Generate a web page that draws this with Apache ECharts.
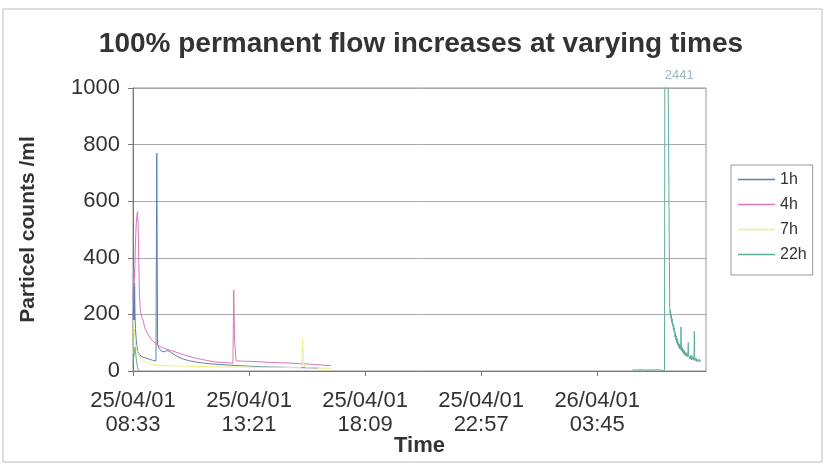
<!DOCTYPE html>
<html>
<head>
<meta charset="utf-8">
<script src="https://cdn.jsdelivr.net/npm/echarts@6/dist/echarts.min.js"></script>
<style>
  body { margin: 0; background: #fff; }
  #main { width: 826px; height: 470px; }
</style>
</head>
<body>
<div id="main"></div>
<script>
// minutes after 25/04/01 08:33
var xTickLabels = ['25/04/01\n08:33', '25/04/01\n13:21', '25/04/01\n18:09', '25/04/01\n22:57', '26/04/01\n03:45'];
var seriesNames = ['1h', '4h', '7h', '22h'];

var t1h = [0, 1, 2, 3, 4, 5, 6, 8, 10, 12, 16, 20, 25, 32, 40, 48, 57, 59, 60, 61, 63, 67, 72, 78, 84, 87, 90, 95, 102, 112, 125, 140, 155, 175, 193, 215, 235, 260, 290, 320, 350, 380, 410, 440, 460];
var v1h = [80, 260, 350, 180, 310, 200, 150, 110, 85, 68, 58, 52, 48, 46, 42, 38, 35, 770, 420, 95, 85, 75, 70, 68, 72, 76, 70, 65, 58, 50, 42, 36, 32, 28, 25, 23, 21, 19, 17, 15, 14, 13, 12, 11, 10];

var t4h = [0, 1, 2, 3, 4, 6, 8, 10, 11.5, 13, 14.5, 16, 18, 20, 24, 30, 37, 45, 55, 69, 85, 100, 112, 130, 154, 180, 203, 225, 243, 248, 250, 252, 256, 270, 290, 310, 330, 350, 370, 390, 410, 430, 450, 470, 490];
var v4h = [250, 345, 300, 360, 330, 450, 520, 555, 563, 500, 380, 270, 215, 200, 185, 150, 130, 112, 98, 85, 76, 70, 64, 55, 46, 38, 32, 30, 28, 27, 286, 110, 36, 35, 34, 33, 31, 30, 29, 28, 26, 25, 23, 21, 19];

var t7h = [0, 1, 2, 3, 5, 8, 12, 16, 20, 25, 30, 40, 50, 60, 80, 100, 130, 160, 200, 240, 280, 320, 360, 400, 418, 421, 423, 426, 432, 450, 470, 490];
var v7h = [60, 180, 170, 150, 110, 80, 64, 48, 40, 34, 32, 26, 23, 21, 19, 18, 17, 16, 15, 14, 14, 13, 13, 12, 12, 115, 30, 14, 12, 11, 10, 9];

var t22h = [0, 2, 4, 5, 6, 8, 10, 12, 14, 16, 17, 1239, 1250, 1260, 1270, 1280, 1290, 1300, 1306, 1312, 1319, 1321,
  1332, 1333, 1334, 1335, 1336, 1337, 1338, 1339, 1340, 1341, 1342, 1343, 1344, 1345, 1346, 1347, 1348, 1349, 1350,
  1351, 1352, 1353, 1354, 1355, 1356, 1357, 1358, 1359, 1360, 1361, 1362, 1363, 1364, 1365, 1366, 1367, 1368, 1369, 1370,
  1371, 1372, 1373, 1374, 1375, 1376, 1377, 1378, 1379, 1380, 1381, 1382, 1383, 1384, 1385, 1386, 1387, 1388, 1389, 1390,
  1391, 1392, 1393, 1394, 1395, 1396, 1397, 1398, 1399, 1400, 1401, 1402, 1403, 1404, 1405, 1406, 1407, 1408];
var v22h = [30, 50, 75, 85, 70, 45, 21, 8, 2, 0, null, 4, 3, 5, 3, 4, 3, 5, 4, 2, 2, 2441,
  227, 200, 215, 185, 200, 170, 185, 160, 170, 145, 160, 135, 150, 120, 135, 110, 125, 100, 115,
  95, 108, 88, 100, 82, 95, 78, 90, 75, 155, 80, 70, 84, 66, 78, 62, 74, 58, 70, 56,
  66, 54, 64, 52, 62, 50, 60, 100, 52, 46, 56, 44, 54, 42, 52, 40, 55, 42, 50, 40,
  48, 38, 140, 48, 38, 46, 36, 44, 34, 42, 33, 40, 32, 40, 30, 42, 32, 38];

var seriesColors = ['#5a7fb5', '#d877bf', '#efef80', '#5fae9c'];

function pairs(t, v) {
  return t.map(function (m, i) { return [m, v[i]]; });
}

var peakIdx = v22h.indexOf(Math.max.apply(null, v22h.filter(function (d) { return d !== null; })));

var dom_flow = document.getElementById('main');
var chart_flow = echarts.init(dom_flow, null, { renderer: 'canvas' });

var font = "'Liberation Sans', Arial, sans-serif";

var option_flow = {
  animation: false,
  backgroundColor: '#fff',
  textStyle: { fontFamily: font },
  title: {
    text: '100% permanent flow increases at varying times',
    left: 416,
    textAlign: 'center',
    top: 25,
    textStyle: { fontSize: 28, fontWeight: 'bold', color: '#333', fontFamily: font }
  },
  graphic: [{
    type: 'rect',
    shape: { x: 3, y: 9, width: 819, height: 453 },
    style: { fill: 'none', stroke: '#bbb', lineWidth: 1 },
    silent: true
  }],
  grid: {
    left: 133, top: 88, right: 120, bottom: 99,
    show: true, borderColor: '#999', borderWidth: 1
  },
  legend: {
    orient: 'vertical',
    left: 731, top: 165,
    padding: [6, 6, 12, 7],
    icon: 'rect',
    itemWidth: 37, itemHeight: 1.5, itemGap: 8,
    borderColor: '#999', borderWidth: 1,
    backgroundColor: '#fff',
    textStyle: { fontSize: 16, color: '#333', fontFamily: font, lineHeight: 17 },
    data: seriesNames
  },
  xAxis: {
    type: 'value',
    min: 0, max: 1422, interval: 288,
    name: 'Time',
    nameLocation: 'middle',
    nameGap: 64,
    nameMoveOverlap: false,
    nameTextStyle: { fontSize: 22, fontWeight: 'bold', color: '#333' },
    axisLine: { lineStyle: { color: '#777' } },
    axisTick: { show: true, length: 5, lineStyle: { color: '#777' } },
    splitLine: { show: false },
    axisLabel: {
      fontSize: 22, color: '#333', lineHeight: 24, margin: 18, showMaxLabel: false,
      formatter: function (v) {
        var i = v / 288;
        return Number.isInteger(i) && xTickLabels[i] ? xTickLabels[i] : '';
      }
    }
  },
  yAxis: {
    type: 'value',
    min: 0, max: 1000, interval: 200,
    name: 'Particel counts /ml',
    nameLocation: 'middle',
    nameGap: 94,
    nameTextStyle: { fontSize: 21, fontWeight: 'bold', color: '#333' },
    axisLine: { show: true, lineStyle: { color: '#777' } },
    axisTick: { show: true, length: 5, lineStyle: { color: '#777' } },
    splitLine: { lineStyle: { color: '#aaa' } },
    axisLabel: {
      fontSize: 22, color: '#333', margin: 13,
      formatter: function (v) { return String(v); }
    }
  },
  series: [
    { name: '1h', type: 'line', data: pairs(t1h, v1h) },
    { name: '4h', type: 'line', data: pairs(t4h, v4h) },
    { name: '7h', type: 'line', data: pairs(t7h, v7h) },
    {
      name: '22h', type: 'line', data: pairs(t22h, v22h),
      markPoint: {
        symbol: 'circle', symbolSize: 0, silent: true,
        label: { show: true, position: 'top', distance: 6, offset: [14, 0], color: '#9cb8c0', fontSize: 13, formatter: '{c}' },
        data: [{ coord: [t22h[peakIdx], 1000], value: v22h[peakIdx] }]
      }
    }
  ].map(function (s, i) {
    s.symbol = 'none';
    s.color = seriesColors[i];
    s.lineStyle = { width: 1 };
    s.clip = true;
    return s;
  })
};

if (option_flow && typeof option_flow === 'object') {
  chart_flow.setOption(option_flow);
}

window.addEventListener('resize', chart_flow.resize);
</script>
</body>
</html>
